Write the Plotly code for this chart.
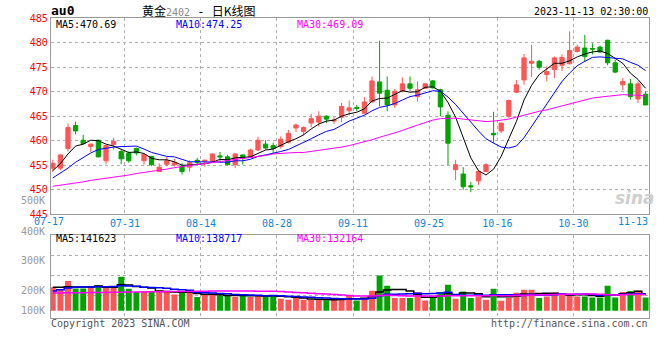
import plotly.graph_objects as go

# ---------------- data ----------------
dates = ["07-17","07-18","07-19","07-20","07-21","07-24","07-25","07-26","07-27","07-28","07-31",
         "08-01","08-02","08-03","08-04","08-07","08-08","08-09","08-10","08-11","08-14","08-15",
         "08-16","08-17","08-18","08-21","08-22","08-23","08-24","08-25","08-28","08-29","08-30",
         "08-31","09-01","09-04","09-05","09-06","09-07","09-08","09-11","09-12","09-13","09-14",
         "09-15","09-18","09-19","09-20","09-21","09-22","09-25","09-26","09-27","09-28","10-09",
         "10-10","10-11","10-12","10-13","10-16","10-17","10-18","10-19","10-20","10-23","10-24",
         "10-25","10-26","10-27","10-30","10-31","11-01","11-02","11-03","11-06","11-07","11-08",
         "11-09","11-10"]

open_ = [454.4,454.4,458.4,463.1,460.1,458.8,460.1,455.9,459.2,457.8,
         457.5,458.4,455.9,456.8,453.7,455.2,455.1,454.8,454.6,456.0,
         455.8,455.8,456.9,456.7,455.1,457.1,456.6,458.1,459.3,459.0,
         458.8,459.7,462.6,461.9,463.6,463.8,465.0,464.0,464.8,466.1,
         466.8,465.6,467.9,472.0,470.3,467.3,470.1,471.6,469.0,470.7,
         472.2,470.4,465.2,454.1,453.2,450.8,451.8,453.7,461.5,462.0,
         465.0,469.9,472.4,475.8,476.2,473.5,474.5,475.4,475.7,478.2,
         478.9,478.8,479.1,480.5,475.9,471.4,471.6,468.5,469.5]
high = [456.1,457.2,463.5,463.9,461.2,459.4,460.2,459.1,460.6,458.1,
        457.8,458.6,457.3,456.9,455.4,456.7,456.3,455.4,456.0,456.5,
        456.1,457.4,457.7,457.1,457.4,457.2,458.4,460.8,460.1,459.6,
        460.9,462.2,463.5,462.9,465.5,466.0,465.2,464.8,467.7,468.2,
        467.3,468.9,473.1,480.4,473.1,470.6,472.9,473.1,472.1,471.8,
        472.4,470.6,466.0,456.1,454.6,451.6,454.0,455.4,465.9,463.6,
        468.4,472.4,477.7,479.6,476.5,475.2,477.2,477.6,482.3,479.6,
        481.6,479.9,479.4,480.6,476.6,472.8,472.6,472.1,470.1]
low = [453.6,454.0,457.8,461.3,459.2,457.7,456.6,455.2,458.2,455.2,
       455.5,457.0,455.1,454.8,453.6,454.8,454.7,453.1,453.7,455.0,
       454.7,455.6,455.6,455.0,454.4,455.1,456.5,457.9,458.2,457.3,
       458.4,459.4,461.8,461.1,462.7,462.9,463.6,463.4,463.8,465.2,
       466.0,465.4,467.8,467.0,466.0,466.7,469.9,470.1,468.0,470.6,
       470.6,465.0,455.0,452.0,450.0,449.5,451.0,453.6,459.5,461.6,
       464.6,469.7,471.4,473.0,474.5,472.1,472.8,474.2,475.6,478.0,
       476.1,477.6,478.0,475.4,473.8,470.3,468.4,467.7,467.3]
close = [455.4,457.1,462.7,462.0,459.4,459.3,456.7,459.0,459.9,456.3,
         455.9,457.5,457.2,455.1,454.6,455.9,455.5,453.7,455.5,455.6,
         456.0,457.3,456.7,455.1,457.3,456.4,458.1,460.1,458.5,458.4,
         460.3,461.5,463.2,462.7,464.5,465.0,464.4,464.2,467.0,466.7,
         466.6,467.9,472.2,469.7,467.3,470.1,471.6,470.7,470.4,471.6,
         470.8,466.9,459.5,455.1,450.6,450.6,453.7,455.1,461.2,463.6,
         468.2,471.4,476.9,476.2,475.0,474.1,476.9,477.0,478.4,479.1,
         477.2,478.7,478.1,475.9,474.0,472.1,469.0,471.6,467.3]

ma5 = [453.9,455.3,457.3,458.9,459.3,460.1,460.0,459.3,458.9,458.2,
       457.6,457.7,457.4,456.4,456.1,456.1,455.7,455.0,455.0,455.2,
       455.3,455.6,456.2,456.1,456.5,456.6,456.7,457.4,458.1,458.3,
       459.1,459.8,460.4,461.2,462.4,463.4,464.0,464.2,465.0,465.5,
       465.8,466.5,468.1,468.6,468.7,469.4,470.2,469.9,470.0,470.9,
       471.0,470.1,467.8,464.8,460.6,456.5,453.9,453.0,454.2,456.8,
       460.4,463.9,468.3,471.3,473.5,474.7,475.8,475.8,476.3,477.1,
       477.7,478.1,478.3,477.8,476.8,475.8,473.8,472.5,470.7]
ma10 = [452.4,453.4,454.4,455.6,456.6,457.5,458.2,458.5,458.7,458.8,
        458.8,458.9,458.3,457.6,457.2,456.8,456.7,456.2,455.7,455.7,
        455.7,455.6,455.6,455.6,455.9,455.9,456.2,456.8,457.1,457.4,
        457.8,458.2,458.9,459.7,460.4,461.2,461.9,462.3,463.1,464.0,
        464.6,465.2,466.1,466.8,467.1,467.6,468.3,469.0,469.3,469.8,
        470.2,470.1,468.9,467.4,465.7,463.8,462.0,460.4,459.5,458.7,
        458.5,458.9,460.6,462.8,465.2,467.5,469.9,472.1,473.8,475.3,
        476.2,477.0,477.1,477.0,476.9,476.7,476.0,475.4,474.3]
ma30 = [450.7,450.9,451.2,451.4,451.6,451.9,452.1,452.3,452.6,452.8,
        453.0,453.3,453.5,453.8,454.0,454.2,454.5,454.7,454.9,455.1,
        455.3,455.5,455.7,455.9,456.1,456.3,456.6,456.8,457.0,457.3,
        457.4,457.6,457.6,457.6,457.8,458.0,458.2,458.4,458.7,459.0,
        459.4,459.7,460.2,460.7,461.1,461.6,462.1,462.7,463.2,463.7,
        464.2,464.5,464.6,464.6,464.4,464.2,464.1,463.9,464.0,464.2,
        464.4,464.8,465.2,465.7,466.0,466.3,466.7,467.2,467.5,468.0,
        468.3,468.7,468.9,469.1,469.3,469.4,469.3,469.3,469.1]

volume = [195000,178000,247000,185000,185000,195000,212000,195000,195000,282000,
          183000,156000,162000,162000,162000,160000,135000,153000,155000,115000,
          130000,133000,127000,133000,118000,125000,115000,130000,127000,131000,
          100000,92000,110000,92000,90000,90000,88000,92000,106000,125000,
          86000,106000,167000,294000,208000,106000,106000,106000,153000,86000,
          106000,153000,217000,100000,161000,106000,119000,92000,183000,83000,
          106000,150000,175000,175000,106000,119000,150000,139000,142000,119000,
          119000,111000,111000,208000,110000,156000,165000,167000,110000]
vol_ma5 = [196000,196000,200000,198000,198000,198000,204800,194400,196400,215800,
           213400,202200,195600,189000,165000,160400,156200,154400,153000,143600,
           137600,137200,132000,127600,128200,127200,123600,124200,123000,125600,
           120600,116000,112000,105000,96800,94800,94000,90400,93200,100200,
           99400,103000,118000,155600,172200,176200,176200,164000,135800,111400,
           111400,120800,143000,132400,147400,147400,140600,115600,132200,116600,
           116600,122800,139400,137800,142400,145000,145000,137800,131200,133800,
           133800,126000,120400,133600,131800,139200,150000,161200,141623]
vol_ma10 = [165000,175000,190000,196000,197000,198000,200000,200000,202000,206900,
            205700,203500,195000,192700,190400,186900,179200,175000,171000,154300,
            149000,146700,143200,140300,135900,132400,130400,128100,125300,126900,
            123900,119800,118100,114000,111200,107700,105000,101200,99100,98500,
            97100,98500,104200,124400,136200,137800,139600,141000,145700,141800,
            143800,148500,153500,134100,129400,129400,130700,129300,132300,132000,
            132000,131700,127500,135000,129500,130800,133900,138600,134500,138100,
            139400,135500,129100,132400,132800,136500,138000,140800,138717]
vol_ma30 = [148000,148000,149000,150000,150000,151000,152000,152000,153000,154000,
            155000,156000,156000,157000,158000,159000,160000,160000,161000,162000,
            163000,164000,165000,165000,165000,164000,164000,163000,163000,162700,
            159500,156700,152100,149000,145800,142300,138200,134800,131800,126600,
            123300,121700,121800,126200,127800,126000,125000,123400,123400,122400,
            121600,122300,125300,124200,125600,125000,125100,123800,125700,124100,
            124300,126200,128400,131200,131700,132700,134700,136300,137500,137300,
            138400,138600,136700,133800,130600,132200,134200,136200,132164]

price_ticks = [445, 450, 455, 460, 465, 470, 475, 480, 485]
date_ticks = ["07-17", "07-31", "08-14", "08-28", "09-11", "09-25", "10-16", "10-30", "11-13"]
vol_labels = ["500K", "400K", "300K", "200K", "100K"]
price_ma_last = [470.69, 474.25, 469.09]
vol_ma_last = [141623, 138717, 132164]

# ---------------- styling ----------------
W, H = 660, 360
RED, GREEN = "#ff5555", "#00a300"
MONO = "DejaVu Sans Mono"
GRID = "#b0b0b0"
BORDER = "#9a9a9a"

def px(x):
    return x / W

def py(y):
    return 1 - y / H

idx = list(range(len(dates)))
tick_pos = [dates.index(d) - 0.5 for d in date_ticks if d in dates]
tick_txt = [d for d in date_ticks if d in dates]
inner = [(p, t) for p, t in zip(tick_pos, tick_txt) if p > 0]

fig = go.Figure()

fig.add_trace(go.Candlestick(
    x=idx, open=open_, high=high, low=low, close=close,
    increasing=dict(line=dict(color=RED, width=1), fillcolor=RED),
    decreasing=dict(line=dict(color=GREEN, width=1), fillcolor=GREEN),
    whiskerwidth=0, xaxis="x", yaxis="y", showlegend=False, hoverinfo="skip"))

for ys, col in ((ma5, "#000000"), (ma10, "#0000ff"), (ma30, "#ff00ff")):
    fig.add_trace(go.Scatter(x=idx, y=ys, mode="lines", line=dict(color=col, width=1),
                             xaxis="x", yaxis="y", showlegend=False, hoverinfo="skip"))

bar_colors = [RED if c >= o else GREEN for o, c in zip(open_, close)]
fig.add_trace(go.Bar(x=idx, y=volume, marker=dict(color=bar_colors, line=dict(width=0)),
                     width=0.78, xaxis="x2", yaxis="y2", showlegend=False, hoverinfo="skip"))
for ys, col in ((vol_ma5, "#000000"), (vol_ma10, "#0000ff"), (vol_ma30, "#ff00ff")):
    fig.add_trace(go.Scatter(x=idx, y=ys, mode="lines", line=dict(color=col, width=1.5, shape="hvh"),
                             xaxis="x2", yaxis="y2", showlegend=False, hoverinfo="skip"))

xdom = [px(50.7), px(649.4)]
xrange = [-0.275, len(dates) - 0.5]
common_axis = dict(showline=True, mirror=True, linecolor=BORDER, linewidth=1, automargin=False,
                   zeroline=False, gridcolor=GRID, griddash="dot", gridwidth=1, ticks="")

fig.update_layout(
    width=W, height=H, margin=dict(l=0, r=0, t=0, b=0, pad=0, autoexpand=False),
    paper_bgcolor="white", plot_bgcolor="white", boxgap=0.2, bargap=0.2,
    xaxis=dict(domain=xdom, range=xrange, anchor="y", rangeslider=dict(visible=False),
               tickmode="array", tickvals=[p for p, _ in inner], ticktext=[t for _, t in inner],
               tickfont=dict(family=MONO, size=10, color="#1284d8"), **common_axis),
    yaxis=dict(domain=[py(214.2), py(18.2)], range=[price_ticks[0], price_ticks[-1]], anchor="x",
               tickmode="array", tickvals=price_ticks, ticktext=[str(v) for v in price_ticks],
               tickfont=dict(family=MONO, size=10, color="#ff0000"), **common_axis),
    xaxis2=dict(domain=xdom, range=xrange, anchor="y2", matches="x",
                tickmode="array", tickvals=[p for p, _ in inner], showticklabels=False, **common_axis),
    yaxis2=dict(domain=[py(318.3), py(234.7)], range=[-63300, 633300], anchor="x2",
                tickmode="array", tickvals=[128300, 293300, 458300], showticklabels=False, **common_axis),
)

ann = []
def add(text, x, y, anchor="left", size=10, color="#000000", family=MONO):
    ann.append(dict(text=text, x=px(x), y=py(y), xref="paper", yref="paper", xanchor=anchor,
                    yanchor="middle", showarrow=False, font=dict(family=family, size=size, color=color)))

add("<b>au0</b>", 49, 10.5, size=13)
add("黄金<span style=\"font-family:'DejaVu Sans Mono';font-size:10px;color:#8c8c8c\">2402</span>"
    "<span style=\"font-family:'DejaVu Sans Mono';font-size:12px\"> - </span>日K线图",
    140, 10.5, size=12, family="Noto Sans CJK SC")
add("2023-11-13 02:30:00", 650, 11.5, anchor="right")
add(f"MA5:{price_ma_last[0]:.2f}", 54, 24.5, color="#000000")
add(f"MA10:{price_ma_last[1]:.2f}", 174, 24.5, color="#0000ff")
add(f"MA30:{price_ma_last[2]:.2f}", 295, 24.5, color="#ff00ff")
add(f"MA5:{vol_ma_last[0]}", 54, 238.5, color="#000000")
add(f"MA10:{vol_ma_last[1]}", 174, 238.5, color="#0000ff")
add(f"MA30:{vol_ma_last[2]}", 295, 238.5, color="#ff00ff")
for lab, yy in zip(vol_labels, [200, 231, 260, 290.7, 310.7]):
    add(lab, 46.5, yy, anchor="right", color="#999999")
add(date_ticks[0], 49, 221.5, anchor="center", color="#1284d8")
add(date_ticks[-1], 650, 221.5, anchor="right", color="#1284d8")
add("Copyright 2023 SINA.COM", 49, 323.5, color="#555555")
add("http://finance.sina.com.cn", 650, 323.5, anchor="right", color="#555555")
add("<b><i>sina</i></b>", 635, 198, anchor="center", size=17, color="#cfcfcf", family="DejaVu Sans")
fig.update_layout(annotations=ann)

fig.write_html("out.html", config={"displayModeBar": False, "staticPlot": True},
               post_script="document.body.style.margin='0px';document.body.style.overflow='hidden';")
